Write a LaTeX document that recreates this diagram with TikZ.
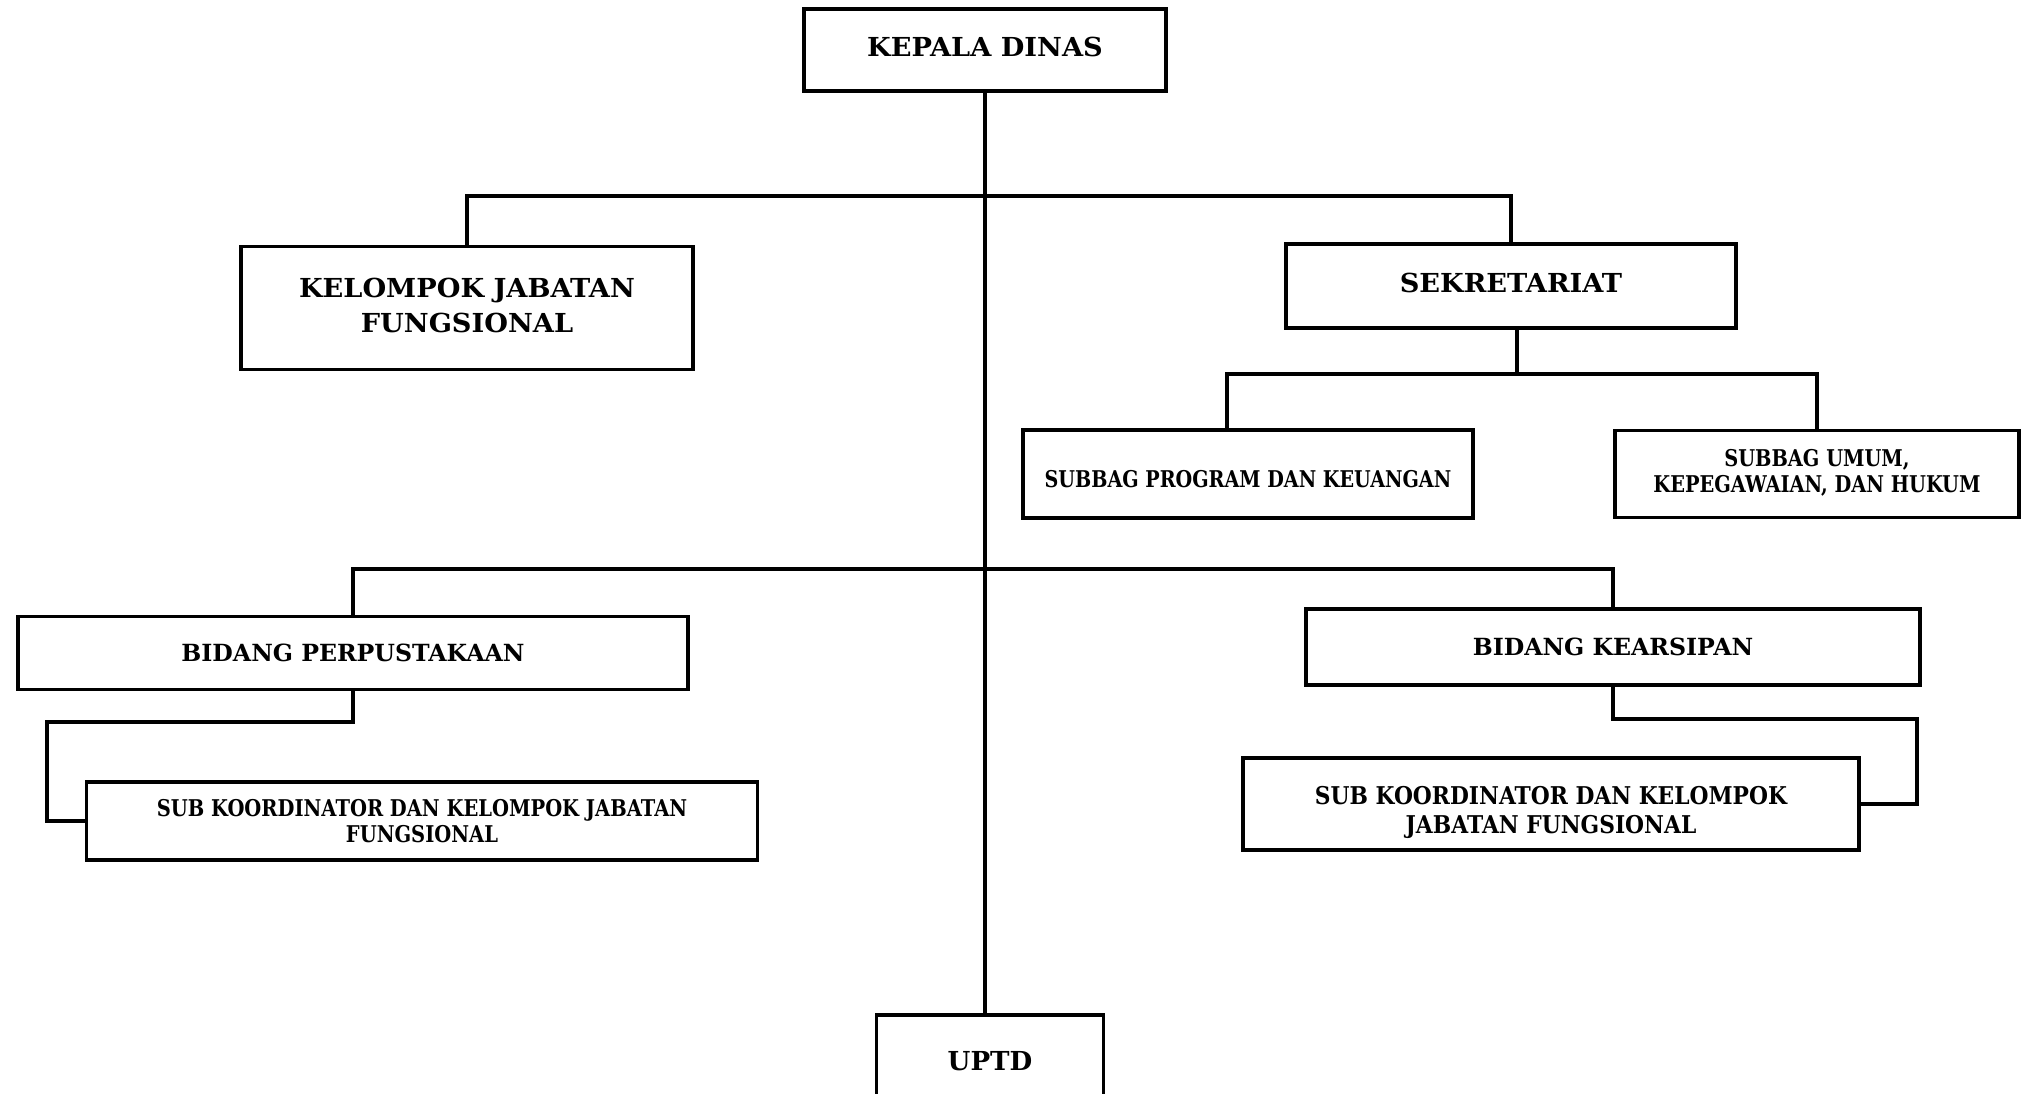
\documentclass[tikz,border=0pt]{standalone}
\usepackage{fontspec}
\setmainfont{DejaVu Serif}
\usepackage{graphicx}
\usepackage{tikz}
\newcommand{\unitpx}{0.0125cm}
\newcommand{\squeeze}[2]{\scalebox{#1}[1]{\begin{tabular}{@{}c@{}}#2\end{tabular}}}
\newcommand{\lowered}[2]{\raisebox{-#1}[\height][\depth]{#2}}
\tikzset{
  unitbox/.style={draw, line width=1.4pt, inner sep=0pt, align=center},
  bigtext/.style={font=\bfseries\fontsize{9.3}{12.4}\selectfont},
  midtext/.style={font=\bfseries\fontsize{8.4}{11}\selectfont},
  smalltext/.style={font=\bfseries\fontsize{8.2}{9.4}\selectfont},
}
\begin{document}
\begin{tikzpicture}[x=0.0125cm, y=-0.0125cm, line cap=round, line join=miter, line width=1.4pt]
  \useasboundingbox (0,0) rectangle (2031,1093);
  \node[unitbox, bigtext, minimum width=362*\unitpx, minimum height=82*\unitpx] (kd) at (985,50) {\squeeze{1.04}{KEPALA DINAS}};
  \node[unitbox, bigtext, minimum width=452*\unitpx, minimum height=123*\unitpx] (kjf) at (467,308) {\squeeze{1.04}{KELOMPOK JABATAN\\FUNGSIONAL}};
  \node[unitbox, bigtext, minimum width=450*\unitpx, minimum height=84*\unitpx] (sek) at (1511,286) {\squeeze{1.04}{SEKRETARIAT}};
  \node[unitbox, smalltext, minimum width=450*\unitpx, minimum height=88*\unitpx] (sp) at (1248,474) {\lowered{0.1cm}{\squeeze{0.83}{SUBBAG PROGRAM DAN KEUANGAN}}};
  \node[unitbox, smalltext, minimum width=404*\unitpx, minimum height=87*\unitpx] (su) at (1817,474) {\squeeze{0.84}{SUBBAG UMUM,\\KEPEGAWAIAN, DAN HUKUM}};
  \node[unitbox, midtext, minimum width=670*\unitpx, minimum height=73*\unitpx] (bp) at (353,653) {BIDANG PERPUSTAKAAN};
  \node[unitbox, smalltext, minimum width=671*\unitpx, minimum height=78*\unitpx] (skl) at (422,821) {\lowered{0.04cm}{\squeeze{0.845}{SUB KOORDINATOR DAN KELOMPOK JABATAN\\FUNGSIONAL}}};
  \node[unitbox, midtext, minimum width=614*\unitpx, minimum height=76*\unitpx] (bk) at (1613,647) {BIDANG KEARSIPAN};
  \node[unitbox, smalltext, font=\bfseries\fontsize{8.7}{10.3}\selectfont, minimum width=616*\unitpx, minimum height=92*\unitpx] (skr) at (1551,804) {\lowered{0.11cm}{\squeeze{0.89}{SUB KOORDINATOR DAN KELOMPOK\\JABATAN FUNGSIONAL}}};
  \node[unitbox, bigtext, minimum width=227*\unitpx, minimum height=92*\unitpx] (uptd) at (990,1061) {UPTD};
  \coordinate (h1) at (985,196);
  \coordinate (h2) at (1517,374);
  \coordinate (h3) at (985,569);
  \coordinate (l1) at (47,722);
  \coordinate (r1) at (1917,719);
  \draw (kd.south) -- (kd.south |- uptd.north);
  \draw (kjf.north) |- (h1) -| (sek.north);
  \draw (sek.south -| h2) -- (h2) -| ([xshift=-0.26cm]sp.north);
  \draw (h2) -| (su.north);
  \draw (bp.north) |- (h3) -| (bk.north);
  \draw (bp.south) |- (l1) |- (skl.west);
  \draw (bk.south) |- (r1) |- (skr.east);
\end{tikzpicture}
\end{document}
